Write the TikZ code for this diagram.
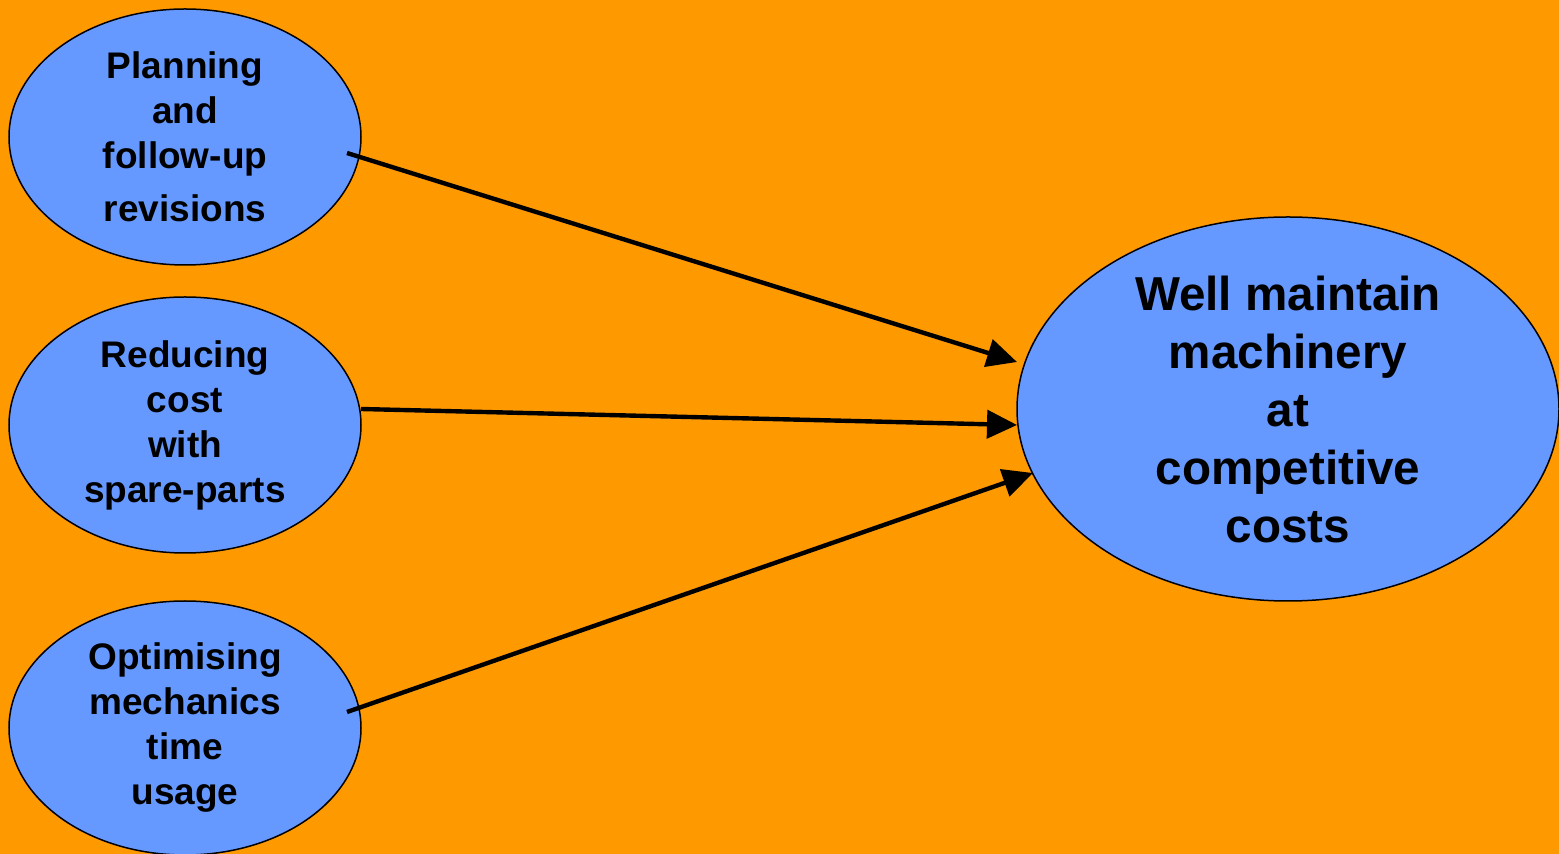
\documentclass[tikz,border=0pt]{standalone}
\usepackage{fontspec}
\setmainfont{Liberation Sans}
\usetikzlibrary{shapes.geometric,arrows.meta,calc}
\definecolor{bgorange}{HTML}{FF9900}
\definecolor{elblue}{HTML}{6699FF}
\begin{document}
\begin{tikzpicture}[x=0.5pt,y=-0.5pt,
  oval/.style={ellipse,draw=black,line width=0.75pt,fill=elblue,inner sep=0pt,align=center,font=\bfseries\fontsize{18.5pt}{22.5pt}\selectfont},
  link/.style={line width=2.2pt,-{Triangle[length=15pt,width=14pt]}}]
\fill[bgorange] (0,0) rectangle (1559,854);
\useasboundingbox (0,0) rectangle (1559,854);
\node[oval,minimum width=352pt*0.5,minimum height=256pt*0.5] (plan) at (185,137) {Planning\\and\\follow-up\\[4pt]revisions};
\node[oval,minimum width=352pt*0.5,minimum height=256pt*0.5] (cost) at (185,425) {Reducing\\cost\\with\\spare-parts};
\node[oval,minimum width=352pt*0.5,minimum height=254pt*0.5] (mech) at (185,728) {Optimising\\mechanics\\time\\usage};
\node[oval,minimum width=542pt*0.5,minimum height=384pt*0.5,font=\bfseries\fontsize{23.8pt}{29pt}\selectfont] (goal) at (1288,409) {Well maintain\\machinery\\at\\competitive\\costs};
\draw[link] ($(plan.center)+(162,16)$) -- ($(goal.center)+(-271,-47)$);
\draw[link] ($(cost.center)+(176,-16)$) -- ($(goal.center)+(-271,16)$);
\draw[link] ($(mech.center)+(162,-16)$) -- ($(goal.center)+(-255,64)$);
\end{tikzpicture}
\end{document}
